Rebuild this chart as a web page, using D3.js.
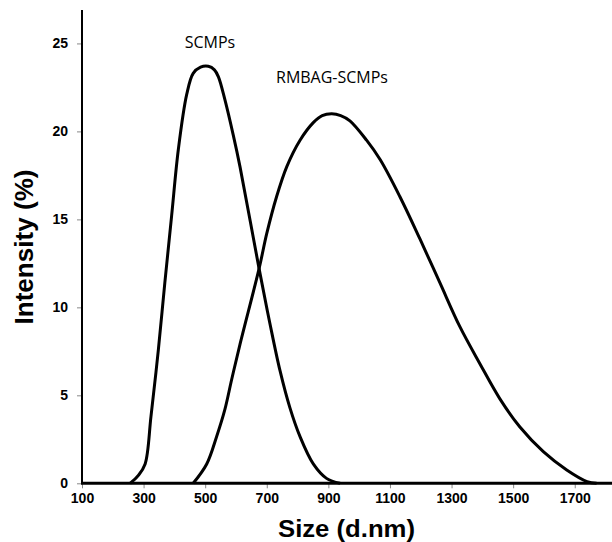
<!DOCTYPE html>
<html>
<head>
<meta charset="utf-8">
<script src="https://cdn.jsdelivr.net/npm/d3@7"></script>
<style>
  body { margin: 0; background: #fff; }
  svg { display: block; }
</style>
</head>
<body>
<svg width="612" height="542"></svg>
<script>
// values
var scmpSize = [256, 283, 305, 324, 348, 369, 391, 413, 440, 461, 485, 510, 530, 543, 564, 591, 613, 675, 710, 743, 775, 808, 851, 894, 938];
var scmpInt  = [0, 0.45, 1.1, 3.8, 7.6, 11.4, 15.2, 19.0, 22.1, 23.3, 23.65, 23.7, 23.5, 23.1, 21.8, 19.8, 18.0, 12.2, 9.1, 6.4, 4.3, 2.65, 1.1, 0.28, 0];

var rmbSize = [461, 505, 537, 564, 586, 613, 675, 700, 732, 765, 808, 851, 880, 911, 940, 970, 1024, 1068, 1132, 1197, 1262, 1327, 1392, 1457, 1522, 1598, 1674, 1740, 1771];
var rmbInt  = [0, 1.1, 2.65, 4.2, 5.9, 7.9, 12.2, 14.2, 16.3, 18.0, 19.5, 20.5, 20.9, 21.0, 20.9, 20.6, 19.5, 18.4, 16.3, 13.9, 11.4, 8.9, 6.8, 4.8, 3.2, 1.8, 0.76, 0.1, 0];

var xTicks = [100, 300, 500, 700, 900, 1100, 1300, 1500, 1700];
var yTicks = [0, 5, 10, 15, 20, 25];

var svg = d3.select('svg');

var x = d3.scaleLinear().domain([100, 1821]).range([82, 612]);
var y = d3.scaleLinear().domain([0, 26.9]).range([483.3, 10]);

// ticks
svg.append('g')
  .attr('transform', 'translate(0,483.3)')
  .call(d3.axisBottom(x).tickValues(xTicks).tickSize(5).tickPadding(5).tickFormat(d3.format('d')));
svg.append('g')
  .attr('transform', 'translate(82,0)')
  .call(d3.axisLeft(y).tickValues(yTicks).tickSize(5).tickPadding(9));

svg.selectAll('.domain').remove();
svg.selectAll('.tick line').attr('stroke', '#888').attr('stroke-width', 1);
svg.selectAll('.tick text')
  .attr('fill', '#000')
  .style('font-family', '"Liberation Sans", Arial, sans-serif')
  .style('font-weight', 'bold')
  .style('font-size', '14px');

// axis lines
svg.append('line').attr('x1', 82).attr('x2', 82).attr('y1', y.range()[1]).attr('y2', 484)
  .attr('stroke', '#000').attr('stroke-width', 2);
svg.append('line').attr('x1', 81).attr('x2', 612).attr('y1', 483.3).attr('y2', 483.3)
  .attr('stroke', '#000').attr('stroke-width', 3);

var line = d3.line()
  .x(function(d){ return x(d[0]); })
  .y(function(d){ return Math.min(y(d[1]), y(0)); })
  .curve(d3.curveCatmullRom.alpha(0.5));

[[scmpSize, scmpInt], [rmbSize, rmbInt]].forEach(function(s){
  svg.append('path')
    .datum(d3.zip(s[0], s[1]))
    .attr('d', line)
    .attr('fill', 'none')
    .attr('stroke', '#000')
    .attr('stroke-width', 3)
    .attr('stroke-linejoin', 'round');
});

// series labels
svg.append('text').attr('x', 210).attr('y', 48.3).attr('text-anchor', 'middle')
  .style('font-family', '"Open Sans", sans-serif').style('font-size', '16px')
  .text('SCMPs');
svg.append('text').attr('x', 276).attr('y', 83.3)
  .style('font-family', '"Open Sans", sans-serif').style('font-size', '16px')
  .text('RMBAG-SCMPs');

// axis titles
svg.append('text')
  .attr('transform', 'translate(32.5,247) rotate(-90)')
  .attr('text-anchor', 'middle')
  .attr('textLength', 155).attr('lengthAdjust', 'spacingAndGlyphs')
  .style('font-family', '"Liberation Sans", Arial, sans-serif')
  .style('font-weight', 'bold').style('font-size', '25px')
  .text('Intensity (%)');
svg.append('text')
  .attr('x', 346.5).attr('y', 537)
  .attr('text-anchor', 'middle')
  .attr('textLength', 137).attr('lengthAdjust', 'spacingAndGlyphs')
  .style('font-family', '"Liberation Sans", Arial, sans-serif')
  .style('font-weight', 'bold').style('font-size', '23px')
  .text('Size (d.nm)');
</script>
</body>
</html>
